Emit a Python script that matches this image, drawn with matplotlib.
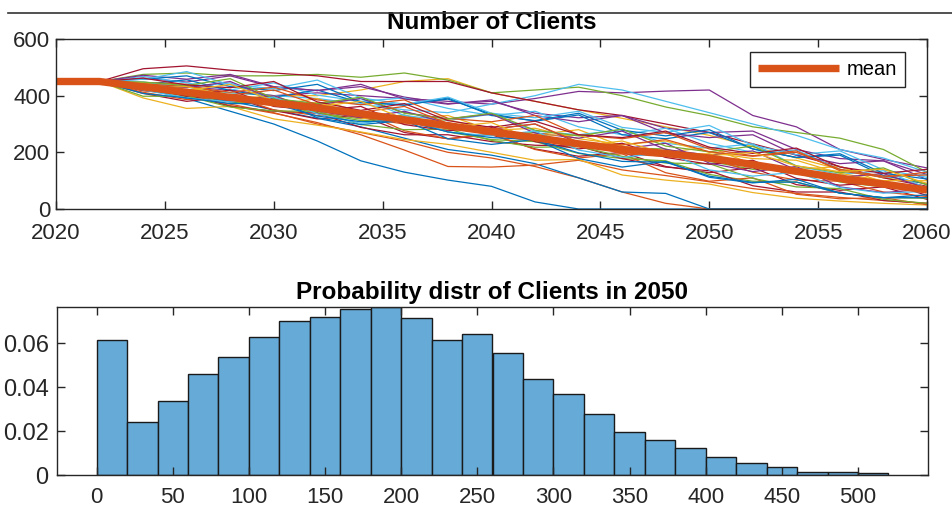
import matplotlib
matplotlib.use("Agg")
import matplotlib.pyplot as plt

plt.rcParams['font.family'] = ['Liberation Sans', 'DejaVu Sans']

# ---------------- data ----------------
path_years = list(range(2022, 2061, 2))
mean_years = list(range(2020, 2061, 2))
mean_clients = [450, 450, 431, 412, 394, 375, 357, 336, 315, 294, 273,
                252, 230, 210, 196, 180, 157, 133, 109, 88, 67]

paths = [
    [450, 425, 390, 345, 300, 240, 170, 130, 102, 80, 25, 0, 0, 0, 0, 0, 0, 0, 0, 0],
    [450, 430, 400, 370, 340, 300, 270, 240, 200, 180, 150, 110, 60, 20, 0, 0, 0, 0, 0, 0],
    [450, 430, 420, 410, 400, 400, 420, 450, 460, 410, 380, 350, 320, 290, 260, 220, 180, 140, 110, 90],
    [450, 440, 430, 420, 400, 410, 400, 390, 380, 370, 390, 415, 410, 416, 420, 330, 290, 210, 175, 145],
    [450, 475, 480, 470, 470, 475, 465, 480, 455, 410, 420, 430, 400, 360, 330, 290, 270, 250, 210, 130],
    [450, 440, 430, 410, 400, 390, 370, 350, 340, 370, 400, 440, 420, 380, 340, 300, 260, 210, 180, 130],
    [450, 495, 505, 490, 480, 470, 450, 450, 450, 410, 380, 350, 330, 300, 270, 230, 190, 150, 110, 80],
    [450, 440, 410, 380, 350, 320, 290, 250, 210, 190, 160, 110, 60, 55, 0, 0, 0, 0, 0, 0],
    [450, 418, 402, 365, 338, 305, 262, 208, 150, 148, 155, 172, 138, 118, 96, 72, 55, 41, 30, 20],
    [450, 392, 355, 362, 318, 296, 272, 245, 228, 200, 172, 175, 120, 102, 88, 58, 38, 28, 20, 14],
    [450, 462, 448, 470, 430, 418, 432, 395, 372, 380, 338, 322, 330, 285, 270, 275, 210, 178, 170, 122],
    [450, 425, 398, 385, 395, 340, 318, 332, 290, 262, 270, 222, 215, 212, 168, 140, 145, 95, 78, 70],
    [450, 468, 445, 420, 445, 402, 380, 392, 355, 330, 345, 290, 262, 285, 232, 200, 208, 140, 112, 122],
    [450, 408, 380, 396, 348, 318, 330, 270, 248, 262, 212, 186, 200, 150, 128, 146, 86, 66, 78, 34],
    [450, 440, 456, 418, 395, 420, 375, 368, 388, 335, 310, 332, 262, 248, 270, 212, 182, 190, 118, 88],
    [450, 447, 440, 400, 378, 372, 322, 300, 305, 262, 238, 235, 195, 185, 180, 130, 102, 98, 60, 44],
    [450, 421, 438, 382, 366, 390, 340, 318, 330, 278, 262, 280, 222, 200, 218, 158, 140, 150, 94, 68],
    [450, 472, 458, 475, 432, 418, 440, 388, 370, 385, 330, 308, 330, 268, 252, 262, 190, 160, 170, 104],
    [450, 430, 402, 378, 372, 338, 312, 318, 272, 245, 238, 196, 178, 170, 122, 98, 95, 56, 40, 38],
    [450, 448, 430, 445, 388, 372, 390, 330, 312, 335, 275, 262, 280, 232, 215, 230, 152, 122, 135, 74],
    [450, 418, 405, 362, 345, 338, 288, 262, 262, 238, 225, 222, 178, 148, 135, 82, 60, 60, 30, 20],
    [450, 458, 470, 432, 418, 440, 378, 366, 392, 330, 312, 338, 278, 258, 280, 212, 182, 195, 126, 106],
    [450, 412, 386, 400, 350, 330, 345, 276, 248, 265, 210, 180, 195, 128, 98, 110, 52, 36, 40, 15],
    [450, 446, 418, 388, 400, 348, 320, 325, 290, 278, 285, 248, 228, 240, 200, 178, 172, 126, 100, 100],
    [450, 436, 428, 450, 388, 368, 390, 340, 318, 335, 268, 250, 275, 210, 190, 205, 138, 112, 125, 72],
    [450, 398, 398, 360, 346, 345, 298, 280, 282, 242, 218, 220, 186, 162, 160, 108, 78, 72, 34, 20],
    [450, 458, 485, 438, 425, 455, 392, 370, 395, 338, 322, 345, 288, 270, 295, 225, 192, 205, 138, 112],
    [450, 428, 398, 420, 362, 348, 362, 298, 276, 292, 238, 212, 232, 182, 158, 172, 108, 84, 95, 48],
    [450, 422, 408, 378, 388, 322, 298, 312, 248, 228, 245, 178, 148, 168, 112, 92, 105, 56, 40, 50],
    [450, 442, 432, 412, 430, 385, 368, 385, 320, 308, 330, 262, 248, 270, 212, 188, 205, 135, 112, 130],
    [450, 426, 432, 398, 372, 375, 338, 312, 315, 276, 262, 260, 218, 192, 195, 148, 124, 122, 80, 60],
    [450, 432, 410, 382, 400, 346, 322, 345, 302, 282, 300, 232, 212, 232, 162, 132, 150, 78, 58, 70],
    [450, 448, 436, 460, 390, 372, 395, 338, 318, 338, 278, 258, 282, 222, 202, 222, 152, 128, 145, 84],
    [450, 420, 392, 378, 395, 336, 302, 322, 272, 258, 275, 208, 182, 200, 138, 116, 130, 76, 56, 62],
    [450, 462, 438, 428, 450, 378, 348, 372, 312, 288, 310, 262, 252, 275, 218, 196, 215, 148, 126, 140],
    [450, 408, 392, 372, 372, 328, 308, 312, 272, 252, 245, 198, 168, 165, 116, 94, 95, 56, 40, 40],
    [450, 438, 418, 402, 420, 368, 342, 362, 302, 282, 300, 236, 226, 245, 202, 186, 200, 140, 116, 120],
    [450, 428, 418, 440, 382, 362, 380, 318, 288, 305, 242, 222, 240, 196, 188, 200, 152, 132, 140, 90],
]

bin_edges = list(range(0, 521, 20))
bin_probs = [0.0614, 0.0242, 0.0336, 0.0460, 0.0538, 0.0626, 0.0700, 0.0720,
             0.0753, 0.0764, 0.0712, 0.0614, 0.0640, 0.0556, 0.0438, 0.0370,
             0.0277, 0.0194, 0.0158, 0.0124, 0.0080, 0.0056, 0.0035, 0.0012,
             0.0015, 0.0008]

top_xticks = list(range(2020, 2061, 5))
top_yticks = [0, 200, 400, 600]
bot_xticks = list(range(0, 501, 50))
bot_yticks = [0, 0.02, 0.04, 0.06]
bot_ytick_labels = ['0', '0.02', '0.04', '0.06']

# ---------------- styling ----------------
matlab_colors = ['#0072BD', '#D95319', '#EDB120', '#7E2F8E',
                 '#77AC30', '#4DBEEE', '#A2142F']
axcol = '#262626'
W, H = 952, 511
fig = plt.figure(figsize=(W / 100, H / 100), dpi=100)

def style_axes(ax):
    for s in ax.spines.values():
        s.set_color(axcol)
        s.set_linewidth(1.0)
    ax.tick_params(direction='in', length=6, width=1.0, colors=axcol,
                   labelsize=16, top=True, right=True, labelcolor=axcol)

# top axes
ax1 = fig.add_axes([56 / W, 1 - 209 / H, (927 - 56) / W, (209 - 39) / H])
for i, p in enumerate(paths):
    ax1.plot(path_years, p, color=matlab_colors[i % 7], lw=0.9)
ax1.plot(mean_years, mean_clients, color='#D95319', lw=5.3, label='mean',
         solid_capstyle='butt')
ax1.set_xlim(2020, 2060)
ax1.set_ylim(0, 600)
ax1.set_xticks(top_xticks)
ax1.set_yticks(top_yticks)
style_axes(ax1)
ax1.tick_params(axis='x', pad=10)
ax1.tick_params(axis='y', pad=4)
ax1.set_title('Number of Clients', fontsize=17.5, fontweight='bold',
              color='black', pad=7.5)
leg = ax1.legend(loc='upper right',
                 bbox_to_anchor=((905 - 56) / 871, (209 - 52) / 170),
                 fontsize=14.5, handlelength=4,
                 fancybox=False, framealpha=1, edgecolor=axcol,
                 borderaxespad=0, borderpad=0.4, handletextpad=0.4)
leg.get_frame().set_linewidth(1.0)

# bottom axes
ax2 = fig.add_axes([57 / W, 1 - 475 / H, (928 - 57) / W, (475 - 307) / H])
ax2.bar(bin_edges[:-1], bin_probs, width=20, align='edge',
        color='#66AAD7', edgecolor='#1a1a1a', linewidth=1.0)
ax2.set_xlim(-26, 546)
ax2.set_ylim(0, 0.0764)
ax2.set_xticks(bot_xticks)
ax2.set_yticks(bot_yticks)
ax2.set_yticklabels(bot_ytick_labels)
style_axes(ax2)
ax2.tick_params(axis='x', pad=8.5)
ax2.tick_params(axis='y', pad=6, labelsize=17)
ax2.set_title('Probability distr of Clients in 2050', fontsize=17.5,
              fontweight='bold', color='black', pad=6)

# top border line of the figure
fig.add_artist(plt.Line2D([8 / W, 1], [1 - 13 / H, 1 - 13 / H],
                          color='#333333', lw=1.2))

fig.savefig('out.png', dpi=100)
